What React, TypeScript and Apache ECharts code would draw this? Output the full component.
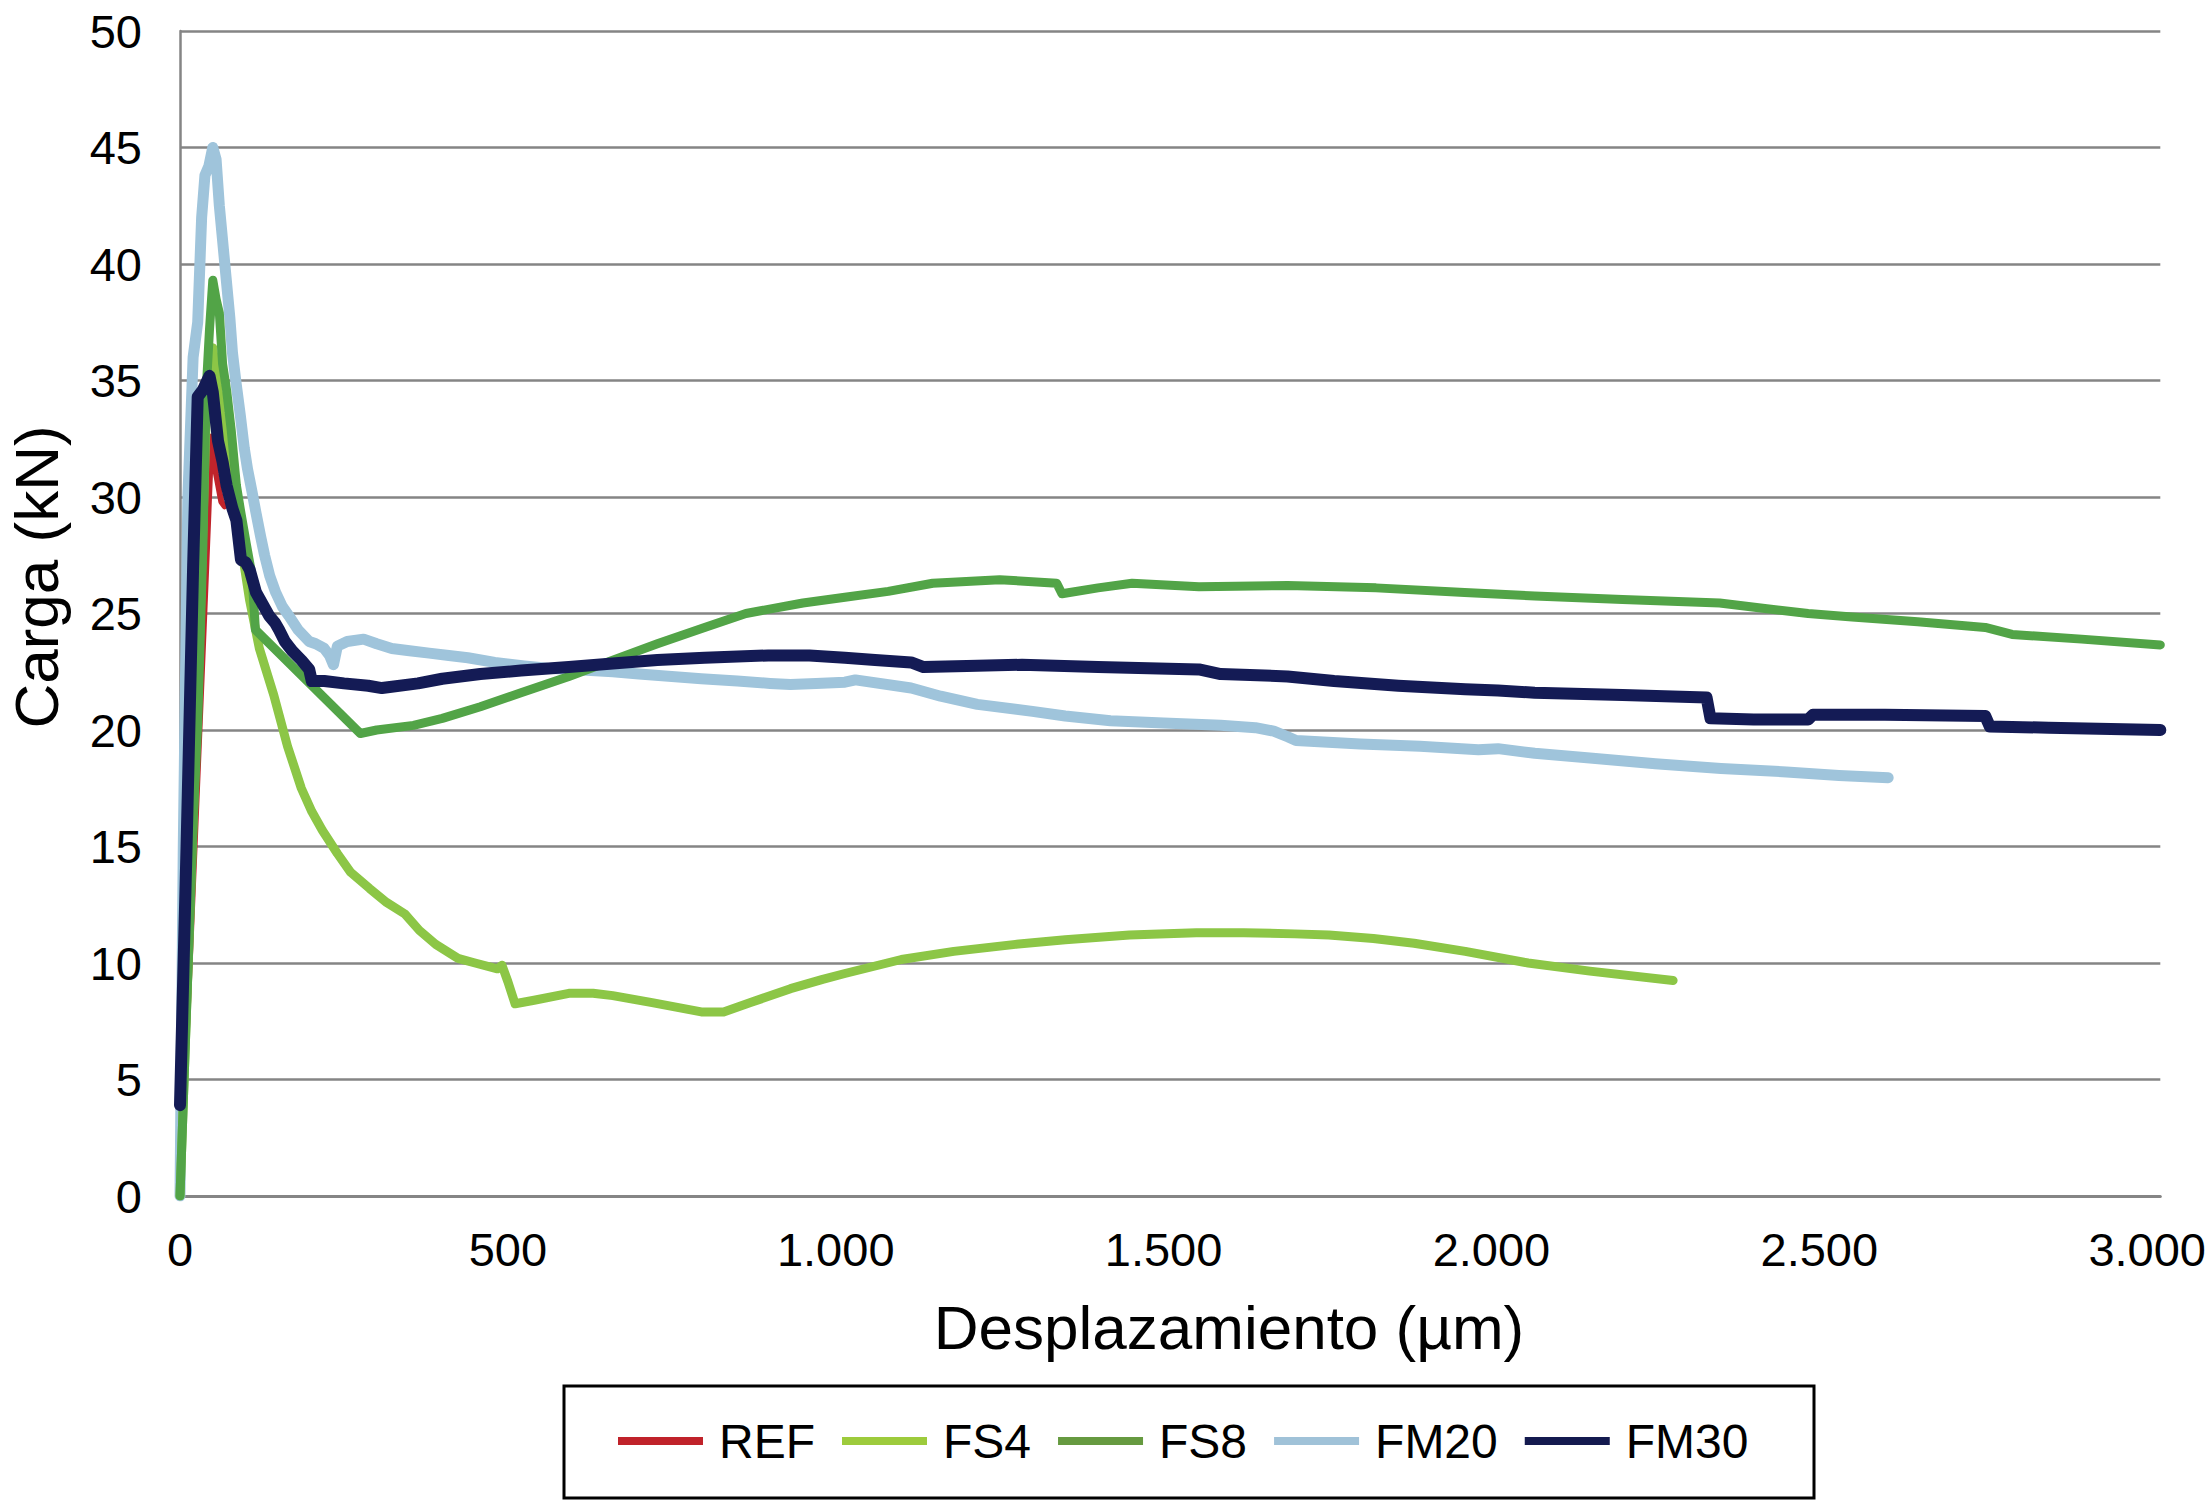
import React, { useEffect, useRef } from "react";
import * as echarts from "echarts";

const SERIES_NAMES = ["REF", "FS4", "FS8", "FM20", "FM30"];
const SERIES_COLORS = ["#c0242b", "#8cc646", "#52a447", "#9fc4db", "#141b55"];
const LEGEND_COLORS = ["#c0222a", "#9dcb3c", "#669a40", "#a0c2d8", "#141a4f"];
const LINE_WIDTHS = [6, 9, 9, 11, 12];
const Z_ORDER = [3, 4, 5, 2, 6];

const X_TICKS = [0, 500, 1000, 1500, 2000, 2500, 3000];
const X_MAX = 3020;
const Y_TICKS = [0, 5, 10, 15, 20, 25, 30, 35, 40, 45, 50];

const REF: number[][] = [
  [0, 0], [20, 13.5], [40, 27], [48, 32.6], [55, 31], [63, 29.8], [68, 29.6],
];

const FS4: number[][] = [
  [0, 0], [15, 12], [30, 24], [40, 33.5], [45, 35.8], [50, 36.4], [56, 35], [63, 33.6],
  [76, 31.4], [88, 29.1], [95, 27.6], [106, 25.6], [121, 23.5], [143, 21.5], [164, 19.3],
  [185, 17.5], [201, 16.5], [217, 15.7], [240, 14.7], [260, 13.9], [289, 13.2],
  [315, 12.6], [343, 12.1], [365, 11.4], [390, 10.8], [424, 10.2], [450, 10.0], [484, 9.75],
  [491, 9.9], [500, 9.2], [511, 8.25], [540, 8.4], [593, 8.7], [630, 8.7], [660, 8.6],
  [720, 8.3], [795, 7.9], [829, 7.9], [870, 8.3], [931, 8.9], [980, 9.3], [1014, 9.55],
  [1100, 10.15], [1180, 10.5], [1274, 10.8], [1350, 11.0], [1448, 11.2], [1550, 11.3],
  [1622, 11.3], [1700, 11.25], [1752, 11.2], [1820, 11.05], [1882, 10.85], [1960, 10.5],
  [2056, 10.0], [2150, 9.65], [2277, 9.25],
];

const FS8: number[][] = [
  [0, 0], [10, 8], [20, 16], [27, 20.3], [35, 28], [40, 34.6], [45, 37.2], [50, 39.3],
  [55, 38.5], [60, 37.9], [65, 35.7], [71, 34.6], [78, 32.9], [86, 30.5], [93, 29.3],
  [101, 28], [110, 26.6], [115, 24.3], [275, 19.85], [300, 20.0], [356, 20.2], [400, 20.5],
  [458, 21.0], [520, 21.6], [593, 22.3], [660, 23.0], [728, 23.7], [800, 24.4], [863, 25.0],
  [950, 25.45], [1014, 25.7], [1080, 25.95], [1148, 26.3], [1250, 26.45], [1337, 26.3],
  [1345, 25.85], [1400, 26.1], [1452, 26.3], [1554, 26.15], [1689, 26.2], [1824, 26.1],
  [1959, 25.9], [2066, 25.75], [2200, 25.6], [2348, 25.45], [2420, 25.2], [2483, 25.0],
  [2550, 24.85], [2650, 24.65], [2753, 24.4], [2794, 24.1], [2900, 23.9], [3020, 23.65],
];

const FM20: number[][] = [
  [0, 0], [5, 15], [12, 30], [20, 36], [27, 37.5], [33, 42], [38, 43.8], [44, 44.2], [50, 45],
  [55, 44.5], [60, 42.5], [64, 41.3], [70, 39.5], [76, 37.7], [80, 36.2], [85, 35], [92, 33.5],
  [98, 32.1], [103, 31.2], [110, 30.2], [116, 29.3], [123, 28.3], [129, 27.5], [137, 26.6],
  [146, 25.9], [156, 25.3], [166, 24.9], [180, 24.3], [197, 23.8], [207, 23.7], [220, 23.5],
  [228, 23.2], [234, 22.8], [240, 23.6], [255, 23.8], [280, 23.9], [300, 23.7], [323, 23.5],
  [350, 23.4], [380, 23.3], [410, 23.2], [439, 23.1], [480, 22.9], [525, 22.75], [560, 22.65],
  [600, 22.6], [660, 22.5], [700, 22.4], [750, 22.3], [795, 22.2], [850, 22.1], [900, 22.0],
  [931, 21.95], [970, 22.0], [1014, 22.05], [1030, 22.15], [1115, 21.8], [1160, 21.45],
  [1216, 21.1], [1300, 20.8], [1350, 20.6], [1419, 20.4], [1500, 20.3], [1587, 20.2],
  [1640, 20.1], [1668, 19.95], [1690, 19.7], [1702, 19.55], [1800, 19.4], [1891, 19.3],
  [1980, 19.15], [2010, 19.2], [2066, 19.0], [2150, 18.8], [2250, 18.55], [2350, 18.35],
  [2450, 18.2], [2530, 18.05], [2605, 17.95],
];

const FM30: number[][] = [
  [0, 3.9], [10, 15], [20, 27], [27, 34.3], [35, 34.6], [45, 35.2], [50, 34.5], [58, 32.4],
  [65, 31.5], [71, 30.5], [80, 29.5], [86, 29], [93, 27.3], [100, 27.2], [106, 26.9],
  [116, 25.9], [126, 25.4], [136, 24.9], [145, 24.6], [151, 24.3], [160, 23.8], [171, 23.4],
  [185, 23], [197, 22.6], [201, 22.1], [220, 22.1], [250, 22], [287, 21.9], [308, 21.8],
  [363, 22.0], [400, 22.2], [458, 22.4], [520, 22.55], [593, 22.7], [660, 22.85], [728, 23.0],
  [800, 23.1], [897, 23.2], [960, 23.2], [1014, 23.1], [1060, 23.0], [1115, 22.9], [1134, 22.7],
  [1200, 22.75], [1284, 22.8], [1400, 22.7], [1554, 22.6], [1587, 22.4], [1689, 22.3],
  [1760, 22.1], [1858, 21.9], [1960, 21.75], [2010, 21.7], [2066, 21.6], [2200, 21.5],
  [2328, 21.4], [2334, 20.5], [2400, 20.45], [2483, 20.45], [2490, 20.65], [2600, 20.65],
  [2753, 20.6], [2760, 20.15], [2850, 20.1], [3020, 20.0],
];

const SERIES_DATA = [REF, FS4, FS8, FM20, FM30];

const X_TITLE = "Desplazamiento (µm)";
const Y_TITLE = "Carga (kN)";

const FONT = "'Liberation Sans', Arial, Helvetica, sans-serif";

function fmtThousands(v: number): string {
  if (X_TICKS.indexOf(v) < 0) return "";
  const s = String(Math.round(v));
  return s.replace(/\B(?=(\d{3})+(?!\d))/g, ".");
}

export default function App() {
  const ref = useRef<HTMLDivElement>(null);

  useEffect(() => {
    if (!ref.current) return;
    const chart = echarts.init(ref.current, undefined, { renderer: "svg" });
    const grid = { left: 180, right: 47, top: 31, bottom: 305 };
    chart.setOption({
      animation: false,
      backgroundColor: "#ffffff",
      grid,
      xAxis: {
        type: "value",
        min: X_TICKS[0],
        max: X_MAX,
        interval: X_TICKS[1] - X_TICKS[0],
        axisLine: { show: true, lineStyle: { color: "#858585", width: 3 } },
        axisTick: { show: false },
        splitLine: { show: false },
        axisLabel: {
          margin: 30,
          color: "#000",
          fontSize: 47,
          fontFamily: FONT,
          formatter: (v: number) => fmtThousands(v),
        },
      },
      yAxis: {
        type: "value",
        min: Y_TICKS[0],
        max: Y_TICKS[Y_TICKS.length - 1],
        interval: Y_TICKS[1] - Y_TICKS[0],
        axisLine: { show: true, lineStyle: { color: "#858585", width: 2.5 } },
        axisTick: { show: false },
        splitLine: { show: true, lineStyle: { color: "#858585", width: 2.5 } },
        axisLabel: {
          margin: 38,
          color: "#000",
          fontSize: 47,
          fontFamily: FONT,
        },
      },
      legend: {
        show: true,
        left: 618,
        top: 1417,
        padding: 0,
        icon: "rect",
        itemWidth: 85,
        itemHeight: 8,
        itemGap: 27,
        textStyle: {
          fontSize: 48,
          fontFamily: FONT,
          color: "#000",
          padding: [0, 0, 0, 11],
        },
        data: SERIES_NAMES.map((n, i) => ({
          name: n,
          itemStyle: { color: LEGEND_COLORS[i] },
        })),
      },
      graphic: [
        {
          type: "rect",
          shape: { x: 564, y: 1386, width: 1250, height: 112 },
          style: { fill: "none", stroke: "#000", lineWidth: 3 },
          silent: true,
        },
        {
          type: "text",
          x: 1229,
          y: 1327,
          style: {
            text: X_TITLE,
            font: `62px ${FONT}`,
            fill: "#000",
            textAlign: "center",
            textVerticalAlign: "middle",
          },
        },
        {
          type: "text",
          x: 36,
          y: 577,
          rotation: Math.PI / 2,
          style: {
            text: Y_TITLE,
            font: `62px ${FONT}`,
            fill: "#000",
            textAlign: "center",
            textVerticalAlign: "middle",
          },
        },
      ],
      series: SERIES_NAMES.map((n, i) => ({
        name: n,
        type: "line",
        data: SERIES_DATA[i],
        showSymbol: false,
        symbol: "none",
        z: Z_ORDER[i],
        color: SERIES_COLORS[i],
        lineStyle: { color: SERIES_COLORS[i], width: LINE_WIDTHS[i], join: "round", cap: "round" },
      })),
    });
    return () => chart.dispose();
  }, []);

  return (
    <div
      ref={ref}
      style={{ position: "fixed", left: 0, top: 0, width: 2209, height: 1501, background: "#fff" }}
    />
  );
}
